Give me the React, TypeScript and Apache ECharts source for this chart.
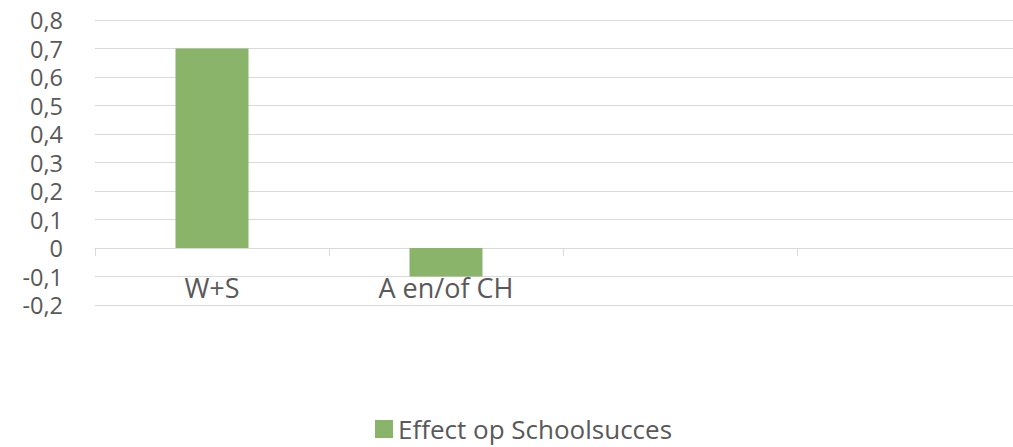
import React, { useEffect, useRef } from "react";
import * as echarts from "echarts";

const categories = ["W+S", "A en/of CH", "", ""];
const seriesName = "Effect op Schoolsucces";
const values: (number | null)[] = [0.7, -0.1, null, null];
const yMin = -0.2;
const yMax = 0.8;
const yStep = 0.1;

export default function App() {
  const ref = useRef<HTMLDivElement>(null);
  useEffect(() => {
    if (!ref.current) return;
    const chart = echarts.init(ref.current, undefined, { renderer: "svg" });
    const font = "'Open Sans', Lato, sans-serif";
    chart.setOption({
      animation: false,
      textStyle: { fontFamily: font },
      grid: { left: 95, top: 20, width: 936, height: 285, containLabel: false },
      legend: {
        left: 375,
        top: 416,
        itemWidth: 18,
        itemHeight: 18,
        itemGap: 10,
        icon: "rect",
        padding: 0,
        textStyle: { color: "#595959", fontSize: 26, lineHeight: 26, fontFamily: font },
        data: [seriesName],
      },
      xAxis: {
        type: "category",
        data: categories,
        axisLine: { show: true, onZero: true, lineStyle: { color: "#d9d9d9", width: 1 } },
        axisTick: { show: true, length: 8, alignWithLabel: false, lineStyle: { color: "#d9d9d9" } },
        axisLabel: { color: "#595959", fontSize: 27, lineHeight: 27, margin: -31, fontFamily: font, interval: 0 },
        splitLine: { show: false },
      },
      yAxis: {
        type: "value",
        min: yMin,
        max: yMax,
        interval: yStep,
        axisLine: { show: false },
        axisTick: { show: false },
        splitLine: { show: true, lineStyle: { color: "#d9d9d9", width: 1 } },
        axisLabel: {
          color: "#595959",
          fontSize: 23.5,
          lineHeight: 24,
          margin: 32,
          fontFamily: font,
          formatter: (v: number) => {
            const r = Math.round(v * 10) / 10;
            if (r === 0) return "0";
            return r.toFixed(1).replace(".", ",");
          },
        },
      },
      series: [
        {
          name: seriesName,
          type: "bar",
          data: values,
          barWidth: 73,
          itemStyle: { color: "#8AB46A" },
        },
      ],
    });
    return () => chart.dispose();
  }, []);
  return (
    <div style={{ position: "absolute", left: 0, top: 0, width: 1013, height: 447, overflow: "hidden" }}>
      <div ref={ref} style={{ width: 1040, height: 447 }} />
    </div>
  );
}
